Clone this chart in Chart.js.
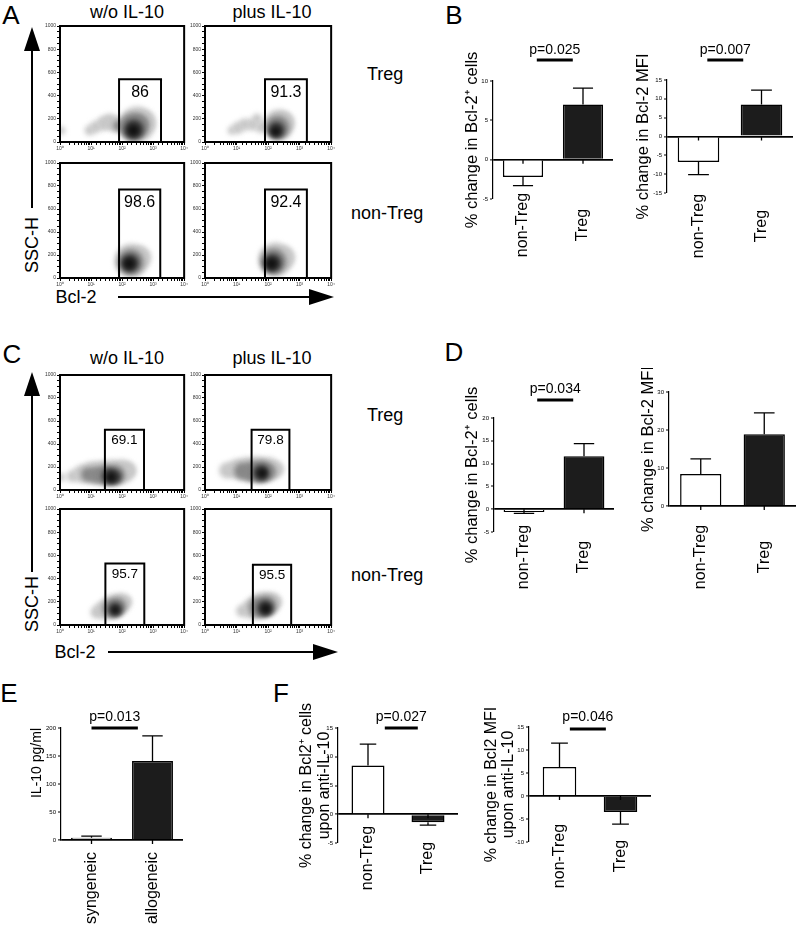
<!DOCTYPE html>
<html>
<head>
<meta charset="utf-8">
<script src="https://cdn.jsdelivr.net/npm/chart.js@4.4.1/dist/chart.umd.min.js"></script>
<style>
body { margin: 0; background: #fff; }
#fig { position: relative; width: 797px; height: 928px; overflow: hidden; font-family: "Liberation Sans", Arial, Helvetica, sans-serif; color: #000; }
#fig canvas { position: absolute; }
.t { position: absolute; white-space: nowrap; line-height: 1; transform: translate(-50%, -50%); }
.l { position: absolute; white-space: nowrap; line-height: 1; transform: translate(0, -50%); }
.v { position: absolute; white-space: nowrap; line-height: 1; transform: translate(-50%, -50%) rotate(-90deg); }
.big { font-size: 26px; }
.hd { font-size: 18px; }
</style>
</head>
<body>
<div id="fig">
  <div class="t big" style="left:11px;top:15px">A</div>
  <div class="t big" style="left:454px;top:15px">B</div>
  <div class="t big" style="left:12px;top:354px">C</div>
  <div class="t big" style="left:454px;top:352px">D</div>
  <div class="t big" style="left:9px;top:693px">E</div>
  <div class="t big" style="left:281px;top:693px">F</div>

  <div class="t hd" style="left:127px;top:12px">w/o IL-10</div>
  <div class="t hd" style="left:272px;top:12px">plus IL-10</div>
  <div class="t hd" style="left:127px;top:358px">w/o IL-10</div>
  <div class="t hd" style="left:272px;top:358px">plus IL-10</div>

  <div class="l hd" style="left:367px;top:74px">Treg</div>
  <div class="l hd" style="left:351px;top:213px">non-Treg</div>
  <div class="l hd" style="left:367px;top:415px">Treg</div>
  <div class="l hd" style="left:351px;top:575px">non-Treg</div>

  <div class="v hd" style="left:32px;top:245px">SSC-H</div>
  <div class="v hd" style="left:32px;top:604px">SSC-H</div>
  <div class="t hd" style="left:76px;top:297px">Bcl-2</div>
  <div class="t hd" style="left:75px;top:652px">Bcl-2</div>

  <svg width="797" height="928" style="position:absolute;left:0;top:0">
    <line x1="32" y1="208" x2="32" y2="45" stroke="#000" stroke-width="2"/>
    <polygon points="32,27 24,51 40,51" fill="#000"/>
    <line x1="118" y1="297" x2="312" y2="297" stroke="#000" stroke-width="2"/>
    <polygon points="334,297 309,289 309,305" fill="#000"/>
    <line x1="32" y1="572" x2="32" y2="390" stroke="#000" stroke-width="2"/>
    <polygon points="32,372 24,396 40,396" fill="#000"/>
    <line x1="108" y1="652" x2="316" y2="652" stroke="#000" stroke-width="2"/>
    <polygon points="338,652 313,644 313,660" fill="#000"/>
  </svg>
</div>
<script>
// ---- flow plots: gates [low, high, SSC top] and gate percentages
var gatesA = [[80, 1800, 540], [80, 1700, 540], [80, 1700, 770], [80, 1700, 770]];
var gatePctA = ['86', '91.3', '98.6', '92.4'];
var gatesC = [[28, 510, 525], [30, 475, 525], [29, 520, 530], [33, 540, 520]];
var gatePctC = ['69.1', '79.8', '95.7', '95.5'];

// density blobs: [Bcl-2, SSC-H, radius px]
var blobA1 = {
  light: [[1.1, 100, 4], [9, 100, 5], [14, 130, 6], [25, 160, 7], [40, 175, 8], [65, 150, 8], [300, 150, 18], [480, 170, 12]],
  mid: [[230, 130, 14], [350, 150, 10], [75, 140, 5]],
  dark: [[240, 110, 10]],
  core: [[230, 100, 6]]
};
var blobA2 = {
  light: [[7, 100, 4], [11, 120, 6], [18, 150, 6], [32, 150, 6], [45, 200, 5], [60, 130, 6], [220, 150, 15], [320, 170, 10]],
  mid: [[200, 125, 12]],
  dark: [[185, 105, 8]],
  core: [[175, 90, 5]]
};
var blobA3 = {
  light: [[200, 150, 17], [380, 180, 11]],
  mid: [[190, 140, 13]],
  dark: [[180, 130, 9]],
  core: [[170, 125, 6]]
};
var blobA4 = {
  light: [[170, 160, 17], [320, 180, 11]],
  mid: [[150, 145, 13]],
  dark: [[140, 132, 9]],
  core: [[130, 125, 6]]
};
var blobC1 = {
  light: [[1.1, 110, 4], [2.5, 120, 6], [5, 140, 9], [10, 150, 11], [20, 150, 12], [45, 150, 13], [100, 160, 12], [160, 170, 8]],
  mid: [[8, 135, 7], [15, 130, 8], [30, 130, 10], [60, 130, 10]],
  dark: [[40, 120, 8], [60, 115, 6]],
  core: [[45, 110, 5]]
};
var blobC2 = {
  light: [[5, 170, 8], [10, 180, 10], [20, 180, 12], [45, 180, 13], [100, 180, 12], [180, 180, 8]],
  mid: [[15, 165, 8], [30, 160, 10], [60, 160, 11], [100, 160, 8]],
  dark: [[60, 150, 8]],
  core: [[65, 145, 5]]
};
var blobC3 = {
  light: [[15, 110, 6], [25, 130, 9], [50, 160, 12], [90, 190, 10], [130, 200, 6]],
  mid: [[45, 140, 9], [70, 160, 9]],
  dark: [[60, 135, 7]],
  core: [[60, 130, 4]]
};
var blobC4 = {
  light: [[15, 120, 6], [30, 140, 10], [60, 170, 13], [110, 190, 11], [160, 200, 7]],
  mid: [[50, 150, 10], [90, 165, 10]],
  dark: [[80, 145, 8]],
  core: [[85, 140, 5]]
};

// ---- bar charts: mean and SEM
var cellGroups = ['non-Treg', 'Treg'];
var mixCats = ['syngeneic', 'allogeneic'];
var bCellsMean = [-2.2, 7.0], bCellsErr = [1.1, 2.1];
var bMfiMean = [-6.8, 8.5], bMfiErr = [3.3, 3.8];
var dCellsMean = [-0.6, 11.6], dCellsErr = [0.3, 2.8];
var dMfiMean = [8.4, 18.9], dMfiErr = [4.0, 5.6];
var il10Mean = [4, 141], il10Err = [3, 45];
var fCellsMean = [8.5, -1.4], fCellsErr = [3.7, 0.5];
var fMfiMean = [6.3, -3.5], fMfiErr = [5.2, 2.6];

var FONT = '"Liberation Sans", Arial, Helvetica, sans-serif';
Chart.defaults.font.family = FONT;
Chart.defaults.color = '#000';

function addCanvas(x, y, w, h) {
  var c = document.createElement('canvas');
  c.width = w;
  c.height = h;
  c.style.left = x + 'px';
  c.style.top = y + 'px';
  document.getElementById('fig').appendChild(c);
  return c;
}

var flowExtras = {
  id: 'flowExtras',
  beforeDatasetDraw: function (chart, args) {
    if (args.meta.type === 'bubble') {
      chart.ctx.save();
      chart.ctx.filter = 'blur(2.5px)';
    }
  },
  afterDatasetDraw: function (chart, args) {
    if (args.meta.type === 'bubble') chart.ctx.restore();
  },
  afterDraw: function (chart, args, o) {
    var a = chart.chartArea, ctx = chart.ctx;
    var xs = chart.scales.x, ys = chart.scales.y;
    ctx.save();
    ctx.lineWidth = 2;
    ctx.strokeStyle = '#000';
    ctx.strokeRect(a.left, a.top, a.right - a.left, a.bottom - a.top);
    ctx.font = o.size + 'px ' + FONT;
    ctx.fillStyle = '#000';
    ctx.textAlign = 'center';
    ctx.textBaseline = 'middle';
    var gx = (xs.getPixelForValue(o.gate[0]) + xs.getPixelForValue(o.gate[1])) / 2;
    ctx.fillText(o.label, gx, ys.getPixelForValue(o.gate[2]) + o.size * 0.8);
    ctx.restore();
  }
};

var supDigits = ['\u2070', '\u00b9', '\u00b2', '\u00b3', '\u2074'];

function bubbles(arr, color, order) {
  return {
    type: 'bubble',
    data: arr.map(function (p) { return { x: p[0], y: p[1], r: p[2] }; }),
    backgroundColor: color,
    borderWidth: 0,
    order: order
  };
}

function flowChart(box, gate, label, blob, lblSize) {
  var cv = addCanvas(box[0] - 24, box[1] - 4, box[2] + 28, box[3] + 18);
  new Chart(cv, {
    type: 'bubble',
    data: {
      datasets: [
        {
          type: 'line',
          data: [{ x: gate[0], y: 0 }, { x: gate[0], y: gate[2] }, { x: gate[1], y: gate[2] }, { x: gate[1], y: 0 }],
          borderColor: '#000',
          borderWidth: 2,
          pointRadius: 0,
          fill: false,
          tension: 0,
          order: 0
        },
        bubbles(blob.core, '#111111', 1),
        bubbles(blob.dark, '#3c3c3c', 2),
        bubbles(blob.mid, '#888888', 3),
        bubbles(blob.light, '#c8c8c8', 4)
      ]
    },
    options: {
      responsive: false,
      animation: false,
      events: [],
      layout: { autoPadding: false, padding: { top: 4, right: 4, left: 2, bottom: 0 } },
      plugins: {
        legend: { display: false },
        tooltip: { enabled: false },
        flowExtras: { gate: gate, label: label, size: lblSize }
      },
      scales: {
        x: {
          type: 'logarithmic',
          min: 1,
          max: 10000,
          afterFit: function (s) { s.height = 14; },
          border: { display: false },
          grid: { drawOnChartArea: false, color: '#000', tickLength: 3 },
          ticks: {
            autoSkip: false,
            maxRotation: 0,
            padding: 1,
            font: { size: 5 },
            color: '#333',
            callback: function (v) {
              var p = [1, 10, 100, 1000, 10000];
              for (var i = 0; i < p.length; i++) {
                if (Math.abs(v - p[i]) < 1e-6 * p[i]) return '10' + supDigits[i];
              }
              return '';
            }
          }
        },
        y: {
          min: 0,
          max: 1000,
          afterFit: function (s) { s.width = 22; },
          border: { display: false },
          grid: { drawOnChartArea: false, color: '#000', tickLength: 3 },
          ticks: {
            stepSize: 50,
            autoSkip: false,
            padding: 1,
            font: { size: 5 },
            color: '#333',
            callback: function (v) { return v % 200 === 0 ? v : ''; }
          }
        }
      }
    },
    plugins: [flowExtras]
  });
}

var barExtras = {
  id: 'barExtras',
  afterDatasetsDraw: function (chart, args, o) {
    var ctx = chart.ctx, xs = chart.scales.x, ys = chart.scales.y;
    var meta = chart.getDatasetMeta(0), vals = chart.data.datasets[0].data;
    var y0 = ys.getPixelForValue(0);
    ctx.save();
    ctx.strokeStyle = '#000';
    ctx.lineWidth = 1.3;
    meta.data.forEach(function (bar, i) {
      var v = vals[i], e = o.err[i];
      var yEnd = ys.getPixelForValue(v);
      var yTip = ys.getPixelForValue(v < 0 ? v - e : v + e);
      var cap = bar.width / 4;
      ctx.beginPath();
      ctx.moveTo(bar.x, yEnd); ctx.lineTo(bar.x, yTip);
      ctx.moveTo(bar.x - cap, yTip); ctx.lineTo(bar.x + cap, yTip);
      ctx.moveTo(bar.x, y0); ctx.lineTo(bar.x, y0 + 4);
      ctx.stroke();
    });
    ctx.fillStyle = '#000';
    ctx.textAlign = 'center';
    ctx.textBaseline = 'middle';
    ctx.font = '16px ' + FONT;
    chart.data.labels.forEach(function (l, i) {
      ctx.save();
      ctx.translate(xs.getPixelForValue(i), o.labelY);
      ctx.rotate(-Math.PI / 2);
      ctx.fillText(l, 0, 0);
      ctx.restore();
    });
    if (o.sig) {
      var c0 = xs.getPixelForValue(0), c1 = xs.getPixelForValue(1);
      var xa = c0 + o.sig.a * (c1 - c0), xb = c0 + o.sig.b * (c1 - c0);
      var top = chart.chartArea.top;
      ctx.lineWidth = 3;
      ctx.beginPath();
      ctx.moveTo(xa, top + o.sig.lineDy); ctx.lineTo(xb, top + o.sig.lineDy);
      ctx.stroke();
      ctx.font = '14px ' + FONT;
      ctx.fillText(o.sig.text, (xa + xb) / 2, top + o.sig.textDy);
    }
    ctx.restore();
  }
};

function barChart(o) {
  var cv = addCanvas(o.box[0], o.box[1], o.box[2], o.box[3]);
  var a = o.area;
  var lh = o.lh || 1.2;
  new Chart(cv, {
    type: 'bar',
    data: {
      labels: o.cats,
      datasets: [{
        data: o.mean,
        backgroundColor: ['#ffffff', '#1c1c1c'],
        borderColor: '#000',
        borderWidth: 1.5,
        barPercentage: o.bp,
        categoryPercentage: 1
      }]
    },
    options: {
      responsive: false,
      animation: false,
      events: [],
      layout: {
        autoPadding: false,
        padding: {
          left: 0,
          top: a[1] - o.box[1],
          right: o.box[0] + o.box[2] - a[2],
          bottom: o.box[1] + o.box[3] - a[3]
        }
      },
      plugins: {
        legend: { display: false },
        tooltip: { enabled: false },
        barExtras: { err: o.err, labelY: o.labelY - o.box[1], sig: o.sig }
      },
      scales: {
        x: { display: false },
        y: {
          min: o.min,
          max: o.max,
          afterFit: function (s) { s.width = a[0] - o.box[0]; },
          border: { color: '#000', width: 1.2 },
          grid: {
            color: function (c) { return c.tick && c.tick.value === 0 ? '#000' : 'rgba(0,0,0,0)'; },
            lineWidth: function (c) { return c.tick && c.tick.value === 0 ? 1.8 : 0; },
            tickColor: '#000',
            tickLength: 3,
            tickWidth: 1
          },
          ticks: { stepSize: o.step, font: { size: 6 }, color: '#000', padding: 2 },
          title: {
            display: true,
            text: o.title,
            color: '#000',
            align: o.talign || 'center',
            font: { size: o.ts, lineHeight: lh },
            padding: { top: o.titleX - o.box[0] - o.ts * lh / 2, bottom: 0 }
          }
        }
      }
    },
    plugins: [barExtras]
  });
}

// panel A
var boxA = [[60, 26, 125, 116], [205, 26, 127, 116], [60, 163, 125, 115], [205, 163, 127, 115]];
var blobsA = [blobA1, blobA2, blobA3, blobA4];
for (var i = 0; i < 4; i++) flowChart(boxA[i], gatesA[i], gatePctA[i], blobsA[i], 16);

// panel C
var boxC = [[60, 375, 125, 115], [205, 375, 127, 115], [60, 509, 125, 116], [205, 509, 127, 116]];
var blobsC = [blobC1, blobC2, blobC3, blobC4];
for (var j = 0; j < 4; j++) flowChart(boxC[j], gatesC[j], gatePctC[j], blobsC[j], 13.5);

// panel B
barChart({
  box: [440, 28, 176, 236], area: [493, 81, 613, 199], cats: cellGroups, mean: bCellsMean, err: bCellsErr,
  min: -5, max: 10, step: 5, bp: 0.67, title: '% change in Bcl-2\u207a cells', ts: 16.5, titleX: 472, labelY: 225,
  sig: { text: 'p=0.025', a: 0.23, b: 0.83, textDy: -31, lineDy: -21 }
});
barChart({
  box: [620, 28, 177, 236], area: [667, 80, 793, 193], cats: cellGroups, mean: bMfiMean, err: bMfiErr,
  min: -15, max: 15, step: 5, bp: 0.66, title: '% change in Bcl-2 MFI', ts: 16.5, titleX: 643, labelY: 226,
  sig: { text: 'p=0.007', a: 0.14, b: 0.71, textDy: -30, lineDy: -20 }
});

// panel D
barChart({
  box: [440, 368, 176, 236], area: [494, 418, 614, 532], cats: cellGroups, mean: dCellsMean, err: dCellsErr,
  min: -5, max: 20, step: 5, bp: 0.68, title: '% change in Bcl-2\u207a cells', ts: 16.5, titleX: 472, labelY: 557,
  sig: { text: 'p=0.034', a: 0.22, b: 0.82, textDy: -29, lineDy: -18 }
});
barChart({
  box: [620, 368, 177, 236], area: [669, 392, 796, 506], cats: cellGroups, mean: dMfiMean, err: dMfiErr,
  min: 0, max: 30, step: 10, bp: 0.65, title: '% change in Bcl-2 MFI', ts: 16.5, titleX: 648, labelY: 557
});

// panel E
barChart({
  box: [0, 700, 186, 228], area: [61, 728, 183, 840], cats: mixCats, mean: il10Mean, err: il10Err,
  min: 0, max: 200, step: 50, bp: 0.67, title: 'IL-10 pg/ml', ts: 14, titleX: 37, labelY: 888, talign: 'end',
  sig: { text: 'p=0.013', a: 0.0, b: 0.76, textDy: -11, lineDy: 0 }
});

// panel F
barChart({
  box: [268, 700, 192, 228], area: [338, 728, 458, 843], cats: cellGroups, mean: fCellsMean, err: fCellsErr,
  min: -5, max: 15, step: 5, bp: 0.55, title: ['% change in Bcl2\u207a cells', 'upon anti-IL-10'], ts: 16, lh: 1.12,
  titleX: 307, labelY: 858,
  sig: { text: 'p=0.027', a: 0.28, b: 0.83, textDy: -11, lineDy: 0 }
});
barChart({
  box: [462, 700, 192, 228], area: [529, 727, 651, 842], cats: cellGroups, mean: fMfiMean, err: fMfiErr,
  min: -10, max: 15, step: 5, bp: 0.55, title: ['% change in Bcl2 MFI', 'upon anti-IL-10'], ts: 16, lh: 1.05,
  titleX: 492, labelY: 856,
  sig: { text: 'p=0.046', a: 0.17, b: 0.76, textDy: -10, lineDy: 2 }
});
</script>
</body>
</html>
